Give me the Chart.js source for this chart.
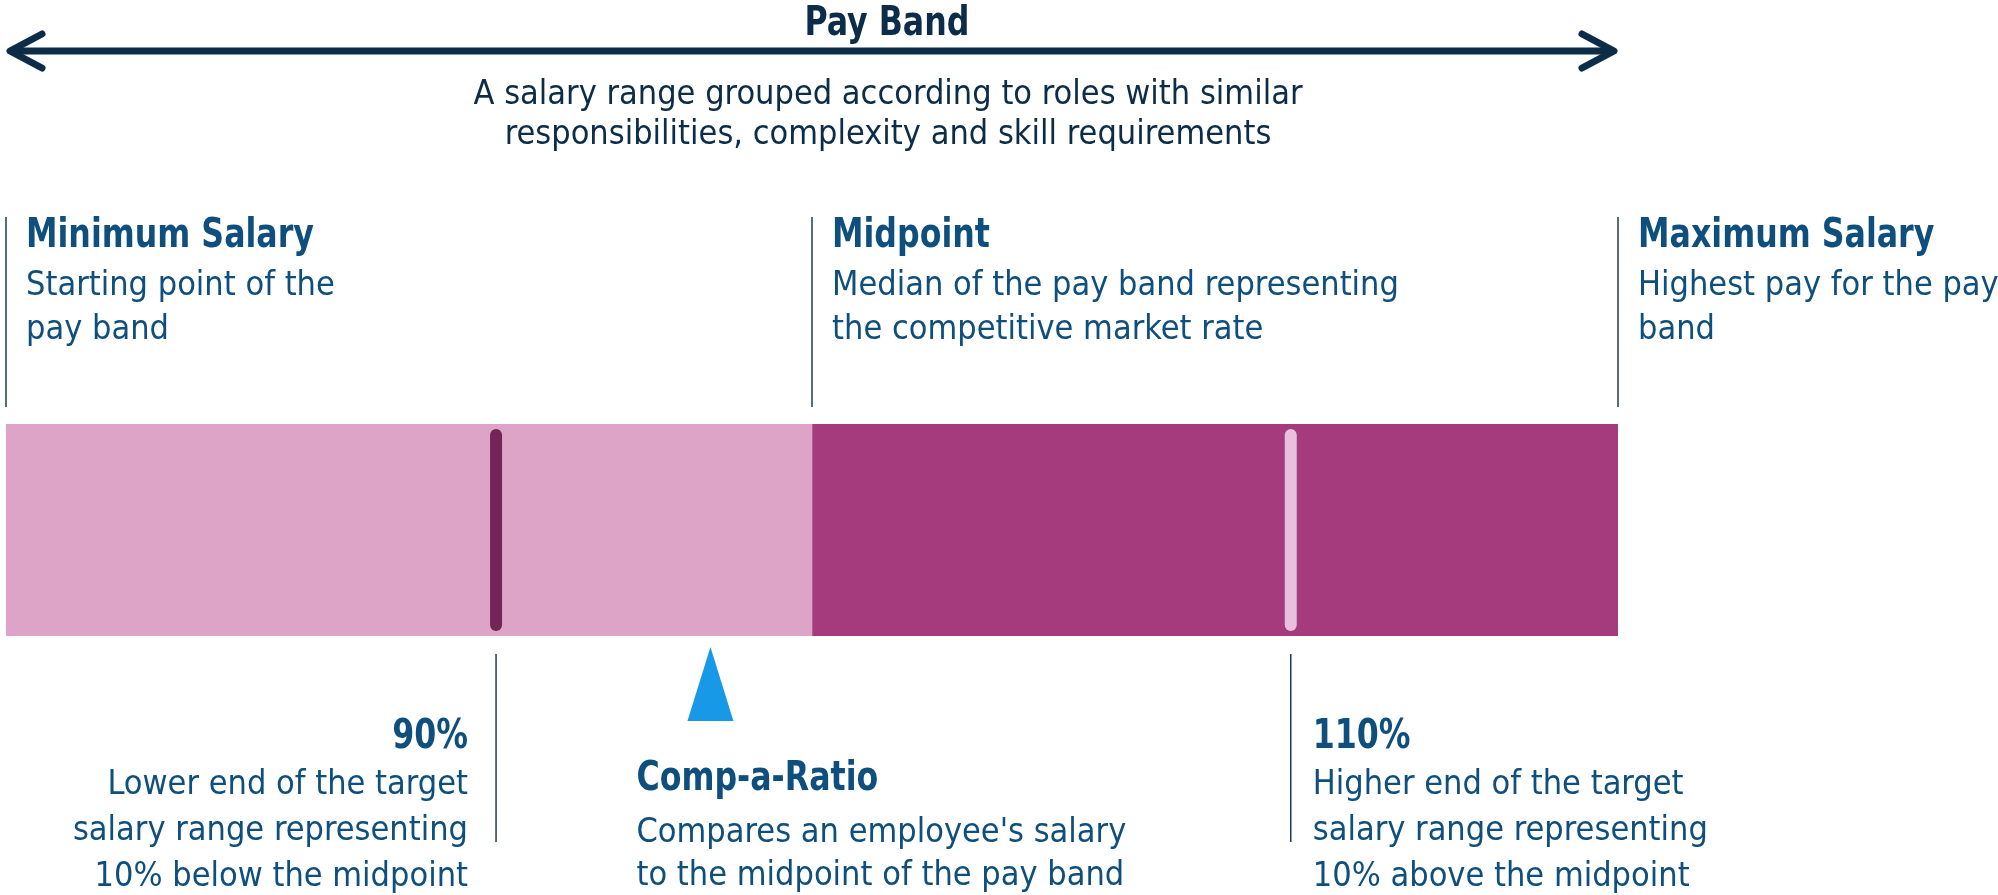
<!DOCTYPE html>
<html>
<head>
<meta charset="utf-8">
<title>Pay Band</title>
<script src="https://cdn.jsdelivr.net/npm/chart.js@4"></script>
<style>
  html, body { margin: 0; padding: 0; background: #ffffff; }
  #wrap { width: 1998px; height: 895px; position: relative; }
</style>
</head>
<body>
<div id="wrap"><canvas id="payChart"></canvas></div>
<script>
// band segments, in position along the pay band (0 = minimum, 100 = maximum)
const segmentLabels = ['Minimum to midpoint', 'Midpoint to maximum'];
const segmentStart = [0, 50];
const segmentEnd = [50, 100];
const segmentColors = ['#dda4c8', '#a53b7d'];

// points on top of the band
const bandEdges = [0, 50, 100];
const edgeTitles = ['Minimum Salary', 'Midpoint', 'Maximum Salary'];
const edgeTexts = [
    ['Starting point of the', 'pay band'],
    ['Median of the pay band representing', 'the competitive market rate'],
    ['Highest pay for the pay', 'band']
];

// target range markers
const targetLabels = ['90%', '110%'];
const targetPositions = [30.4, 79.7];
const targetColors = ['#722557', '#e9c0db'];
const targetTexts = [
    ['Lower end of the target', 'salary range representing', '10% below the midpoint'],
    ['Higher end of the target', 'salary range representing', '10% above the midpoint']
];

// comp-a-ratio pointer
const compaPosition = 43.7;
const compaTitle = 'Comp-a-Ratio';
const compaText = ["Compares an employee's salary", 'to the midpoint of the pay band'];

const chartTitle = 'Pay Band';
const chartSubtitle = ['A salary range grouped according to roles with similar',
    'responsibilities, complexity and skill requirements'];

const NAVY = '#0c2c47';
const BLUE = '#0f4f7d';
const LINE = '#1d3b57';
const FONT = "'Liberation Sans Narrow', 'DejaVu Sans Condensed', 'Roboto', sans-serif";
const SQUEEZE = 0.88;

function drawLines(ctx, lines, x, y0, step, align) {
    ctx.textAlign = align;
    lines.forEach(function (t, i) { ctx.fillText(t, x, y0 + i * step); });
}

// bold headings are narrower in the original, squeeze them sideways
function drawHeading(ctx, text, x, y, align) {
    ctx.font = 'bold 40px ' + FONT;
    ctx.textAlign = 'left';
    const w = ctx.measureText(text).width * SQUEEZE;
    let x0 = x;
    if (align === 'center') x0 = x - w / 2;
    if (align === 'right') x0 = x - w;
    ctx.save();
    ctx.translate(x0, y);
    ctx.scale(SQUEEZE, 1);
    ctx.fillText(text, 0, 0);
    ctx.restore();
    ctx.font = '34px ' + FONT;
}

const payBandPlugin = {
    id: 'payBandDecor',
    afterDatasetsDraw: function (chart) {
        const ctx = chart.ctx;
        const x = chart.scales.x;
        const area = chart.chartArea;
        ctx.save();

        // marker bars inside the band
        ctx.lineCap = 'round';
        ctx.lineWidth = 12;
        targetPositions.forEach(function (p, i) {
            const px = x.getPixelForValue(p);
            ctx.strokeStyle = targetColors[i];
            ctx.beginPath();
            ctx.moveTo(px, area.top + 11);
            ctx.lineTo(px, area.bottom - 11);
            ctx.stroke();
        });

        // double arrow
        const left = x.getPixelForValue(0), right = x.getPixelForValue(100);
        ctx.strokeStyle = NAVY;
        ctx.lineWidth = 7;
        ctx.lineCap = 'round';
        ctx.lineJoin = 'round';
        ctx.beginPath();
        ctx.moveTo(left + 6, 51);
        ctx.lineTo(right - 6, 51);
        ctx.stroke();
        ctx.beginPath();
        ctx.moveTo(left + 36, 34); ctx.lineTo(left + 4, 51); ctx.lineTo(left + 36, 68);
        ctx.moveTo(right - 36, 34); ctx.lineTo(right - 4, 51); ctx.lineTo(right - 36, 68);
        ctx.stroke();

        // title and subtitle
        ctx.fillStyle = NAVY;
        ctx.textBaseline = 'middle';
        drawHeading(ctx, chartTitle, 887, 25, 'center');
        drawLines(ctx, chartSubtitle, 888, 95, 40, 'center');

        // edge lines and labels above the band
        ctx.strokeStyle = LINE;
        ctx.lineWidth = 1.5;
        ctx.lineCap = 'butt';
        bandEdges.forEach(function (p, i) {
            const px = x.getPixelForValue(p);
            ctx.beginPath();
            ctx.moveTo(px, 217);
            ctx.lineTo(px, 407);
            ctx.stroke();
            ctx.fillStyle = BLUE;
            drawHeading(ctx, edgeTitles[i], px + 20, 237, 'left');
            drawLines(ctx, edgeTexts[i], px + 20, 286, 44.5, 'left');
        });

        // target range lines and labels below the band
        targetPositions.forEach(function (p, i) {
            const px = x.getPixelForValue(p);
            ctx.strokeStyle = LINE;
            ctx.beginPath();
            ctx.moveTo(px, area.bottom + 18);
            ctx.lineTo(px, 842);
            ctx.stroke();
            const align = i === 0 ? 'right' : 'left';
            const tx = i === 0 ? px - 28 : px + 22;
            ctx.fillStyle = BLUE;
            drawHeading(ctx, targetLabels[i], tx, 738, align);
            drawLines(ctx, targetTexts[i], tx, 785, 46, align);
        });

        // comp-a-ratio pointer
        const cx = x.getPixelForValue(compaPosition);
        ctx.fillStyle = '#1799e8';
        ctx.beginPath();
        ctx.moveTo(cx, area.bottom + 11);
        ctx.lineTo(cx + 23, area.bottom + 85);
        ctx.lineTo(cx - 23, area.bottom + 85);
        ctx.closePath();
        ctx.fill();
        ctx.fillStyle = BLUE;
        drawHeading(ctx, compaTitle, cx - 74, 780, 'left');
        drawLines(ctx, compaText, cx - 74, 833, 43.5, 'left');

        ctx.restore();
    }
};

const ctx = document.getElementById('payChart');
new Chart(ctx, {
    type: 'bar',
    data: {
        labels: ['Pay Band'],
        datasets: segmentLabels.map(function (label, i) {
            return {
                label: label,
                data: [[segmentStart[i], segmentEnd[i]]],
                backgroundColor: segmentColors[i],
                borderWidth: 0,
                borderSkipped: false,
                barPercentage: 1,
                categoryPercentage: 1,
                grouped: false
            };
        })
    },
    options: {
        indexAxis: 'y',
        responsive: true,
        maintainAspectRatio: false,
        animation: false,
        layout: { padding: { left: 6, right: 380, top: 424, bottom: 259 } },
        plugins: {
            legend: { display: false },
            tooltip: { enabled: false },
            title: { display: false }
        },
        scales: {
            x: { type: 'linear', min: 0, max: 100, display: false },
            y: { display: false }
        }
    },
    plugins: [payBandPlugin]
});
</script>
</body>
</html>
